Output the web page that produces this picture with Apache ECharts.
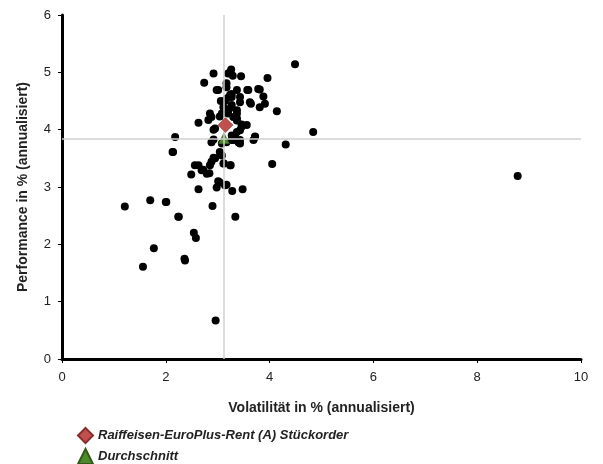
<!DOCTYPE html>
<html><head><meta charset="utf-8">
<script src="https://cdn.jsdelivr.net/npm/echarts@6/dist/echarts.min.js"></script>
<style>html,body{margin:0;padding:0;background:#fff}#c{width:603px;height:464px}</style>
</head><body><div id="c"></div>
<script>
var xAxisTicks = [0, 2, 4, 6, 8, 10];
var yAxisTicks = [0, 1, 2, 3, 4, 5, 6];
var fundName = 'Raiffeisen-EuroPlus-Rent (A) Stückorder';
var avgName = 'Durchschnitt';
var fundPoint = [3.15, 4.08];
var avgPoint = [3.12, 3.85];
var peerVol = [4.49,8.78,2.96,1.21,1.70,2.01,2.25,2.63,2.90,2.54,2.58,1.77,1.56,2.37,2.98,
 2.13,2.92,3.06,2.88,2.85,2.63,2.72,2.84,2.49,3.12,3.25,4.05,3.04,3.17,3.28,3.48,2.00,2.24,3.34,2.36,
 3.26,3.20,2.92,3.45,3.96,2.74,3.17,2.98,3.57,3.81,3.88,3.37,3.91,3.81,3.64,4.14,3.43,3.27,3.06,3.11,
 3.37,3.08,2.88,2.63,3.04,3.37,2.92,3.46,3.37,2.18,3.27,3.72,2.92,3.27,3.43,3.08,2.14,4.31,3.08,4.84,3.46,
 3.24,3.29,3.17,3.01,3.59,3.78,3.24,3.43,3.14,3.62,3.27,3.37,3.20,2.85,3.30,2.82,3.37,2.95,3.43,3.33,
 3.30,3.69,3.43,3.56,3.72,2.88,3.17,3.40,3.04,2.95,2.56,2.69,2.79,3.11,3.24,3.01,3.14,3.27,3.22,3.18];
var peerPerf = [5.14,3.19,0.67,2.66,2.77,2.74,2.48,2.96,2.67,2.20,2.11,1.93,1.61,1.72,2.99,
 3.61,3.51,3.57,3.44,3.38,3.38,3.30,3.24,3.22,3.41,3.38,3.40,3.08,3.04,2.93,2.96,2.74,2.48,2.48,1.75,
 5.05,4.98,4.98,4.93,4.90,4.82,4.74,4.69,4.69,4.70,4.58,4.69,4.45,4.39,4.45,4.32,4.48,4.57,4.50,4.39,
 4.28,4.28,4.22,4.12,4.23,4.20,4.00,4.05,3.96,3.87,3.90,3.87,3.83,3.82,3.82,3.76,3.61,3.74,3.55,3.96,4.09,
 5.00,4.94,4.81,4.69,4.69,4.71,4.61,4.57,4.50,4.48,4.43,4.34,4.28,4.28,4.22,4.17,4.16,4.02,3.99,3.90,
 3.82,3.82,3.76,4.08,3.88,3.78,3.78,3.78,3.61,3.50,3.38,3.29,3.23,3.41,3.38,3.10,3.03,4.62,4.36,4.55];

var peers = peerVol.map(function (v, i) { return [v, peerPerf[i]]; });
var chart = echarts.init(document.getElementById('c'));
var font = 'Liberation Sans, Arial, sans-serif';
var legendText = { fontSize: 13, fontStyle: 'italic', fontWeight: 'bold', color: '#222', fontFamily: font };
chart.setOption({
  animation: false,
  textStyle: { fontFamily: font },
  grid: { left: 62, right: 22, top: 15, bottom: 105 },
  xAxis: {
    type: 'value', min: 0, max: 10, interval: 2,
    name: 'Volatilität in % (annualisiert)', nameLocation: 'middle', nameGap: 42,
    nameTextStyle: { fontSize: 14, fontWeight: 'bold', color: '#222' },
    axisLine: { show: true, onZero: false, lineStyle: { color: '#000', width: 3 } },
    axisTick: { show: true, length: 4, lineStyle: { color: '#000' } },
    axisLabel: { color: '#222', fontSize: 13, margin: 12 },
    splitLine: { show: false }
  },
  yAxis: {
    type: 'value', min: 0, max: 6, interval: 1,
    name: 'Performance in % (annualisiert)', nameLocation: 'middle', nameGap: 32, nameRotate: 90,
    nameTextStyle: { fontSize: 14, fontWeight: 'bold', color: '#222' },
    axisLine: { show: true, onZero: false, lineStyle: { color: '#000', width: 3 } },
    axisTick: { show: true, length: 4, lineStyle: { color: '#000' } },
    axisLabel: { color: '#222', fontSize: 13, margin: 11 },
    splitLine: { show: false }
  },
  legend: [
    { left: 72, top: 422, itemGap: 4, itemWidth: 15, itemHeight: 15, data: [fundName],
      textStyle: legendText, selectedMode: false },
    { left: 72, top: 443, itemGap: 4, itemWidth: 15, itemHeight: 15, data: [avgName],
      textStyle: legendText, selectedMode: false }
  ],
  series: [
    {
      type: 'scatter', name: 'Peers', data: peers, symbolSize: 8,
      itemStyle: { color: '#000', opacity: 1 }, z: 2
    },
    {
      type: 'scatter', name: 'Linien', data: [], z: 3,
      markLine: {
        silent: true, symbol: 'none', label: { show: false },
        lineStyle: { color: '#d0d0d0', width: 1.5, type: 'solid' },
        data: [{ xAxis: avgPoint[0] }, { yAxis: avgPoint[1] }]
      }
    },
    {
      type: 'scatter', name: avgName, data: [avgPoint], symbol: 'triangle', symbolSize: 11,
      itemStyle: { color: '#4e8a2c', borderColor: '#2f5a18', borderWidth: 0.5, opacity: 1 }, z: 4
    },
    {
      type: 'scatter', name: fundName, data: [fundPoint], symbol: 'diamond', symbolSize: 15,
      itemStyle: { color: '#c0504d', borderColor: '#8a2d2a', borderWidth: 0.5, opacity: 1 }, z: 5
    }
  ]
});
</script></body></html>
